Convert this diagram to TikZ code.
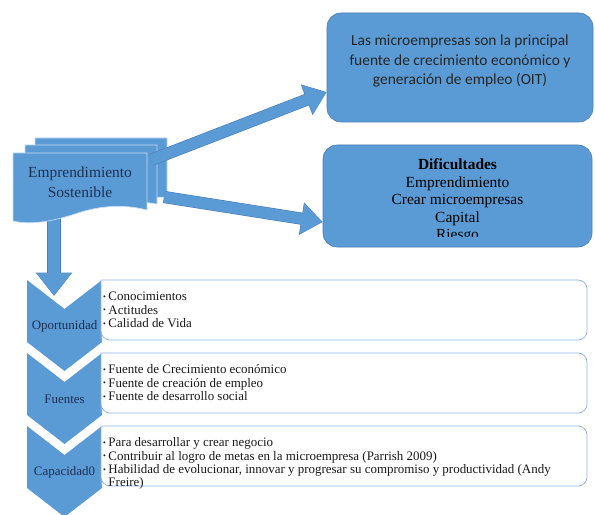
\documentclass[tikz,border=0pt]{standalone}
\usepackage{fontspec}
\setmainfont{Liberation Serif}
\newfontfamily\calib{Carlito}
\usepackage{xcolor}
\usetikzlibrary{arrows.meta}
\definecolor{smblue}{HTML}{5B9BD5}
\definecolor{smedge}{HTML}{4A7EBB}
\definecolor{smline}{HTML}{8DB3E2}
\definecolor{smnavy}{HTML}{1F2F50}
\newcommand{\bul}{\raisebox{1.1bp}{\fontsize{8}{8}\selectfont\textbullet}}
\tikzset{
	bigbox/.style={rounded corners=14bp,fill=smblue,draw=smedge,line width=0.6bp,inner sep=0pt},
	oittext/.style={align=center,text=black!85,font=\calib\fontsize{15.5}{20}\selectfont},
	diftext/.style={align=center,text=black,font=\fontsize{15.5}{17.5}\selectfont},
	arrowedge/.style={smedge,line width=12.2bp,-{Triangle[length=21.5bp,width=31.5bp]}},
	blockarrow/.style={smblue,line width=11bp,shorten >=0.9bp,-{Triangle[length=20bp,width=30bp]}},
	pagestyle/.style={fill=smblue,draw=white!65!smblue,line width=0.7bp},
	chevlabel/.style={text=smnavy,font=\fontsize{13}{14}\selectfont,inner sep=0pt},
	listbox/.style={fill=white,draw=smline,line width=0.7bp},
	bullets/.style={anchor=north west,inner sep=0pt,text=black!90,font=\fontsize{13}{13.5}\selectfont}
}
\begin{document}
\begin{tikzpicture}[x=1bp,y=-1bp]
		\useasboundingbox (0,0) rectangle (595,515);
		\node[bigbox,minimum width=266bp,minimum height=109bp] (oit) at (460,67.5) {};
		\node[oittext] (oittxt) at (460,61) {Las microempresas son la principal\\fuente de crecimiento económico y\\generación de empleo (OIT)};
		\node[bigbox,minimum width=269bp,minimum height=102bp] (dif) at (457.5,196) {};
		\begin{scope}
			\clip (dif.north west) rectangle ([yshift=11bp]dif.south east);
			\node[diftext] (diftxt) at (457.5,201) {\textbf{Dificultades}\\Emprendimiento\\Crear microempresas\\Capital\\Riesgo};
		\end{scope}
		\foreach \t/\lab in {280/Oportunidad,353/Fuentes,426/Capacidad0}{
			\fill[smblue] (27,\t)--(64.5,\t+29)--(102,\t)--(102,\t+62)--(64.5,\t+91)--(27,\t+62)--cycle;
			\node[chevlabel] (c\lab) at (64.5,\t+46) {\lab};
			\draw[listbox] (101,\t+60) -- (101,\t) [rounded corners=9bp] -- (587,\t) -- (587,\t+60) -- (101,\t+60) [sharp corners] -- cycle;
		}
		\node[bullets] (lista) at (103,291) {\begin{tabular}{@{}l@{\hspace{2.5bp}}l@{}}
			\bul & Conocimientos\\ \bul & Actitudes\\ \bul & Calidad de Vida\end{tabular}};
		\node[bullets] (listb) at (103,364) {\begin{tabular}{@{}l@{\hspace{2.5bp}}l@{}}
			\bul & Fuente de Crecimiento económico\\ \bul & Fuente de creación de empleo\\ \bul & Fuente de desarrollo social\end{tabular}};
		\node[bullets] (listc) at (103,437) {\begin{tabular}{@{}l@{\hspace{2.5bp}}l@{}}
			\bul & Para desarrollar y crear negocio\\ \bul & Contribuir al logro de metas en la microempresa (Parrish 2009)\\
			\bul & Habilidad de evolucionar, innovar y progresar su compromiso y productividad (Andy\\ & Freire)\end{tabular}};
		\coordinate (tailC) at (54,214);
		\coordinate (tipC) at (54,296);
		\draw[arrowedge,line width=13.4bp,-{Triangle[length=23.5bp,width=35bp]}] (tailC) -- (tipC);
		\draw[blockarrow,line width=12.5bp,-{Triangle[length=22bp,width=33.5bp]}] (tailC) -- (tipC);
		\draw[pagestyle] (35,138) -- (167,138) -- (167,197) -- (60,200) -- (35,200) -- cycle;
		\draw[pagestyle] (25,145) -- (157,145) -- (157,204) .. controls (140,201) and (120,201) .. (100,205) -- (25,210) -- cycle;
		\draw[pagestyle] (13,153) -- (147,153) -- (147,210) .. controls (120,203) and (95,207) .. (75,214) .. controls (50,222) and (30,225) .. (13,221) -- cycle;
		\node[diftext,text=smnavy,font=\fontsize{15.5}{20}\selectfont] (empr) at (80,182) {Emprendimiento\\Sostenible};
		\coordinate (tailA) at (151,160);
		\coordinate (tailB) at (164,197);
		\draw[arrowedge] (tailA) -- ([yshift=-24.5bp]oit.west);
		\draw[blockarrow] (tailA) -- ([yshift=-24.5bp]oit.west);
		\draw[arrowedge] (tailB) -- ([yshift=-26bp]dif.west);
		\draw[blockarrow] (tailB) -- ([yshift=-26bp]dif.west);
		\end{tikzpicture}
\end{document}
